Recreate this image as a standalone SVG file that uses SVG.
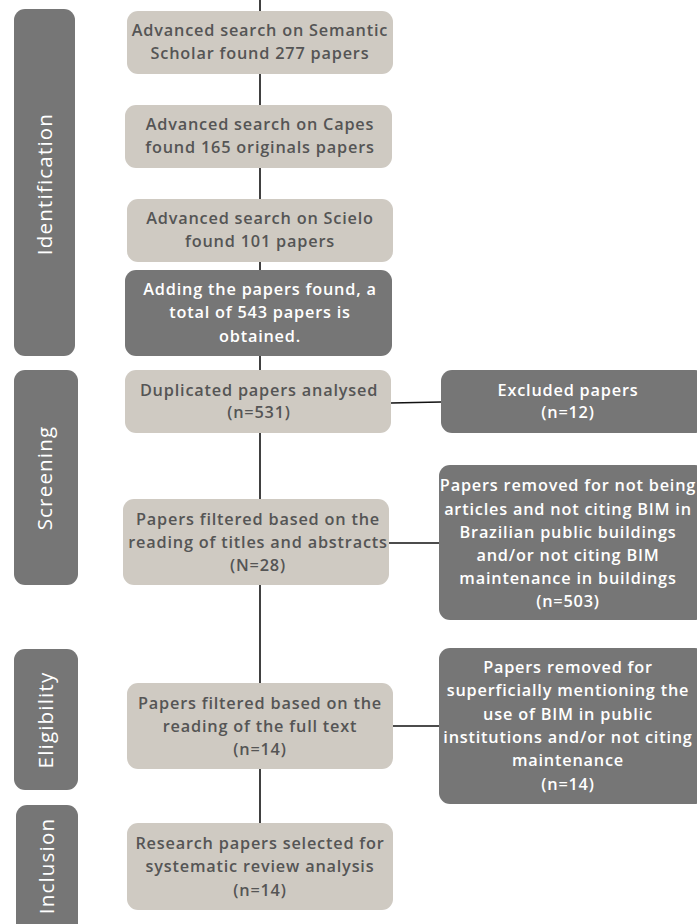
<svg xmlns="http://www.w3.org/2000/svg" width="697" height="924" viewBox="0 0 697 924">
<style>
.lt{fill:#cfcac2}
.dk{fill:#767676}
.t{font-family:"Open Sans","Liberation Sans",sans-serif;font-weight:600;font-size:16.3px;letter-spacing:0.8px;text-anchor:middle}
.tl{fill:#555555}
.tw{fill:#ffffff}
.side{font-family:"Open Sans","Liberation Sans",sans-serif;font-weight:500;font-size:20.5px;fill:#ffffff;text-anchor:middle;letter-spacing:1.2px}
.c{stroke:#111111;stroke-width:1.6;fill:none}
</style>
<rect width="697" height="924" fill="#ffffff"/>
<g id="connectors">
<line class="c" x1="260" y1="0" x2="260" y2="823"/>
<line class="c" x1="391" y1="403" x2="441" y2="402"/>
<line class="c" x1="389" y1="543" x2="439" y2="543"/>
<line class="c" x1="393" y1="726" x2="439" y2="726"/>
</g>
<g id="stage-identification">
<rect class="dk" x="14" y="9" width="61" height="347" rx="11"/>
<text class="side" transform="translate(52,184) rotate(-90)">Identification</text>
</g>
<g id="stage-screening">
<rect class="dk" x="14" y="370" width="64" height="215" rx="11"/>
<text class="side" transform="translate(52,478) rotate(-90)">Screening</text>
</g>
<g id="stage-eligibility">
<rect class="dk" x="14" y="649" width="64" height="141" rx="11"/>
<text class="side" transform="translate(53,720) rotate(-90)">Eligibility</text>
</g>
<g id="stage-inclusion">
<rect class="dk" x="16" y="805" width="62" height="130" rx="11"/>
<text class="side" transform="translate(54,866) rotate(-90)">Inclusion</text>
</g>
<g id="n1">
<rect class="lt" x="127" y="11" width="266" height="63" rx="11"/>
<text class="t tl" x="260" y="36">Advanced search on Semantic</text>
<text class="t tl" x="260" y="59">Scholar found 277 papers</text>
</g>
<g id="n2">
<rect class="lt" x="125" y="105" width="267" height="63" rx="11"/>
<text class="t tl" x="260" y="130">Advanced search on Capes</text>
<text class="t tl" x="260" y="153">found 165 originals papers</text>
</g>
<g id="n3">
<rect class="lt" x="127" y="199" width="266" height="63" rx="11"/>
<text class="t tl" x="260" y="224">Advanced search on Scielo</text>
<text class="t tl" x="260" y="247">found 101 papers</text>
</g>
<g id="n4">
<rect class="dk" x="125" y="270" width="267" height="86" rx="11"/>
<text class="t tw" x="260" y="295">Adding the papers found, a</text>
<text class="t tw" x="260" y="318">total of 543 papers is</text>
<text class="t tw" x="260" y="342">obtained.</text>
</g>
<g id="n5">
<rect class="lt" x="125" y="370" width="266" height="63" rx="11"/>
<text class="t tl" x="259" y="396">Duplicated papers analysed</text>
<text class="t tl" x="259" y="418">(n=531)</text>
</g>
<g id="n6">
<rect class="lt" x="123" y="499" width="266" height="86" rx="11"/>
<text class="t tl" x="258" y="525">Papers filtered based on the</text>
<text class="t tl" x="258" y="548">reading of titles and abstracts</text>
<text class="t tl" x="258" y="571">(N=28)</text>
</g>
<g id="n7">
<rect class="lt" x="127" y="683" width="266" height="86" rx="11"/>
<text class="t tl" x="260" y="709">Papers filtered based on the</text>
<text class="t tl" x="260" y="732">reading of the full text</text>
<text class="t tl" x="260" y="755">(n=14)</text>
</g>
<g id="n8">
<rect class="lt" x="127" y="823" width="266" height="87" rx="11"/>
<text class="t tl" x="260" y="849">Research papers selected for</text>
<text class="t tl" x="260" y="872">systematic review analysis</text>
<text class="t tl" x="260" y="896">(n=14)</text>
</g>
<g id="x1">
<rect class="dk" x="441" y="370" width="265" height="63" rx="11"/>
<text class="t tw" x="568" y="396">Excluded papers</text>
<text class="t tw" x="568" y="418">(n=12)</text>
</g>
<g id="x2">
<rect class="dk" x="439" y="465" width="267" height="155" rx="11"/>
<text class="t tw" x="568" y="491">Papers removed for not being</text>
<text class="t tw" x="568" y="515">articles and not citing BIM in</text>
<text class="t tw" x="568" y="538">Brazilian public buildings</text>
<text class="t tw" x="568" y="561">and/or not citing BIM</text>
<text class="t tw" x="568" y="584">maintenance in buildings</text>
<text class="t tw" x="568" y="607">(n=503)</text>
</g>
<g id="x3">
<rect class="dk" x="439" y="648" width="267" height="156" rx="11"/>
<text class="t tw" x="568" y="673">Papers removed for</text>
<text class="t tw" x="568" y="696">superficially mentioning the</text>
<text class="t tw" x="568" y="720">use of BIM in public</text>
<text class="t tw" x="568" y="743">institutions and/or not citing</text>
<text class="t tw" x="568" y="766">maintenance</text>
<text class="t tw" x="568" y="790">(n=14)</text>
</g>
</svg>
